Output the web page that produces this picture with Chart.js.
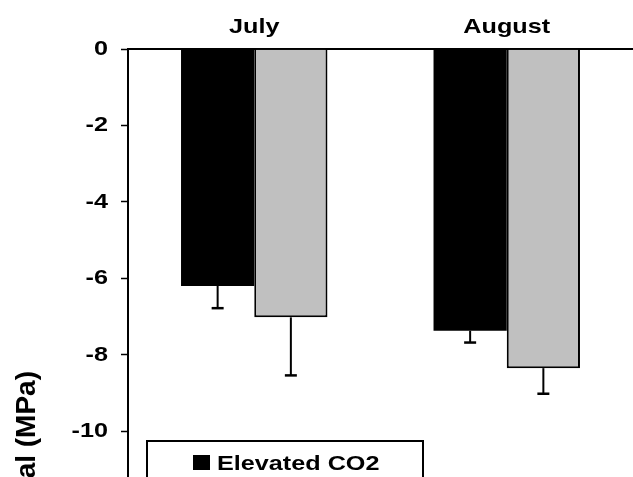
<!DOCTYPE html>
<html><head><meta charset="utf-8">
<script src="https://cdn.jsdelivr.net/npm/chart.js@4"></script>
<style>html,body{margin:0;padding:0;background:#fff;overflow:hidden}#wrap{width:633px;height:477px}</style>
</head><body><div id="wrap"><canvas id="c" width="633" height="477"></canvas></div>
<script>
const categories = ['July', 'August'];
const seriesNames = ['Elevated CO2', 'Ambient CO2'];
const elevatedValues = [-6.2, -7.37];
const ambientValues = [-7.02, -8.35];
const elevatedErrors = [0.58, 0.31];
const ambientErrors = [1.52, 0.67];
const yTickValues = [0, -2, -4, -6, -8, -10];
const yAxisTitle = 'Water potential (MPa)';

const FONT = '"Liberation Sans", Arial, sans-serif';
const errorsBySeries = [elevatedErrors, ambientErrors];

// Text in the reference is drawn horizontally widened; widen glyphs around their anchor point.
const widenTextPlugin = {
  id: 'widenText',
  beforeInit(chart) {
    const ctx = chart.ctx;
    const proto = CanvasRenderingContext2D.prototype.fillText;
    ctx.hScale = 1.2;
    ctx.fillText = function (t, x, y, mw) {
      if (this.hScale && this.hScale !== 1) {
        this.save();
        this.translate(x, y);
        this.scale(this.hScale, 1);
        if (mw !== undefined) proto.call(this, t, 0, 0, mw); else proto.call(this, t, 0, 0);
        this.restore();
      } else {
        if (mw !== undefined) proto.call(this, t, x, y, mw); else proto.call(this, t, x, y);
      }
    };
  }
};

const errorBarPlugin = {
  id: 'errorBars',
  afterDatasetsDraw(chart) {
    const ctx = chart.ctx;
    const y = chart.scales.y;
    chart.data.datasets.forEach((ds, i) => {
      const meta = chart.getDatasetMeta(i);
      meta.data.forEach((el, j) => {
        const v = ds.data[j];
        const e = errorsBySeries[i][j];
        const yTop = y.getPixelForValue(v);
        const yEnd = y.getPixelForValue(v - e);
        ctx.save();
        ctx.strokeStyle = '#000';
        ctx.lineWidth = 2;
        ctx.beginPath();
        ctx.moveTo(el.x, yTop);
        ctx.lineTo(el.x, yEnd);
        ctx.stroke();
        ctx.lineWidth = 2.5;
        ctx.beginPath();
        ctx.moveTo(el.x - 6, yEnd);
        ctx.lineTo(el.x + 6, yEnd);
        ctx.stroke();
        ctx.restore();
      });
    });
  }
};

const legendTitlePlugin = {
  id: 'legendTitle',
  afterDraw(chart) {
    const ctx = chart.ctx;
    ctx.save();
    ctx.strokeStyle = '#000';
    ctx.lineWidth = 2;
    ctx.strokeRect(147, 441, 276, 90);
    ctx.font = 'bold 21px ' + FONT;
    ctx.textBaseline = 'alphabetic';
    ctx.textAlign = 'left';
    chart.data.datasets.forEach((ds, i) => {
      const top = 455 + i * 30;
      ctx.fillStyle = ds.backgroundColor;
      ctx.fillRect(193, top, 17, 15);
      if (ds.borderWidth) { ctx.lineWidth = 1.5; ctx.strokeRect(193, top, 17, 15); }
      ctx.fillStyle = '#000';
      ctx.fillText(ds.label, 217, top + 15);
    });
    // y axis title (rotated, not widened)
    const hs = ctx.hScale;
    ctx.hScale = 1;
    ctx.font = 'bold 28px ' + FONT;
    ctx.translate(35, 371);
    ctx.rotate(-Math.PI / 2);
    ctx.textAlign = 'right';
    ctx.textBaseline = 'alphabetic';
    ctx.fillText(yAxisTitle, 0, 0);
    ctx.hScale = hs;
    ctx.restore();
  }
};

new Chart(document.getElementById('c'), {
  type: 'bar',
  data: {
    labels: categories,
    datasets: [
      { label: seriesNames[0], data: elevatedValues, backgroundColor: '#000000', borderColor: '#000000', borderWidth: 0 },
      { label: seriesNames[1], data: ambientValues, backgroundColor: '#c0c0c0', borderColor: '#000000', borderWidth: 2 }
    ]
  },
  options: {
    responsive: false,
    animation: false,
    events: [],
    layout: { padding: { top: 6, left: 0, right: 0, bottom: 0 } },
    datasets: { bar: { categoryPercentage: 0.58, barPercentage: 1.0 } },
    plugins: { legend: { display: false }, tooltip: { enabled: false } },
    scales: {
      x: {
        position: 'top',
        grid: { display: true, drawOnChartArea: false, drawTicks: false, color: 'rgba(0,0,0,0)' },
        border: { display: true, color: '#000', width: 2 },
        ticks: { color: '#000', padding: 9, font: { family: FONT, size: 21, weight: 'bold' } }
      },
      y: {
        min: -11.2,
        max: 0,
        grid: { display: true, drawOnChartArea: false, drawTicks: true, tickLength: 7, color: '#000', tickWidth: 1.5 },
        border: { display: true, color: '#000', width: 2 },
        ticks: { color: '#000', padding: 13, font: { family: FONT, size: 21, weight: 'bold' } },
        afterBuildTicks(s) { s.ticks = yTickValues.map(v => ({ value: v })); },
        afterFit(s) { s.width = 128; s.paddingTop = 0; s.paddingBottom = 0; }
      }
    }
  },
  plugins: [widenTextPlugin, errorBarPlugin, legendTitlePlugin]
});
</script>
</body></html>
